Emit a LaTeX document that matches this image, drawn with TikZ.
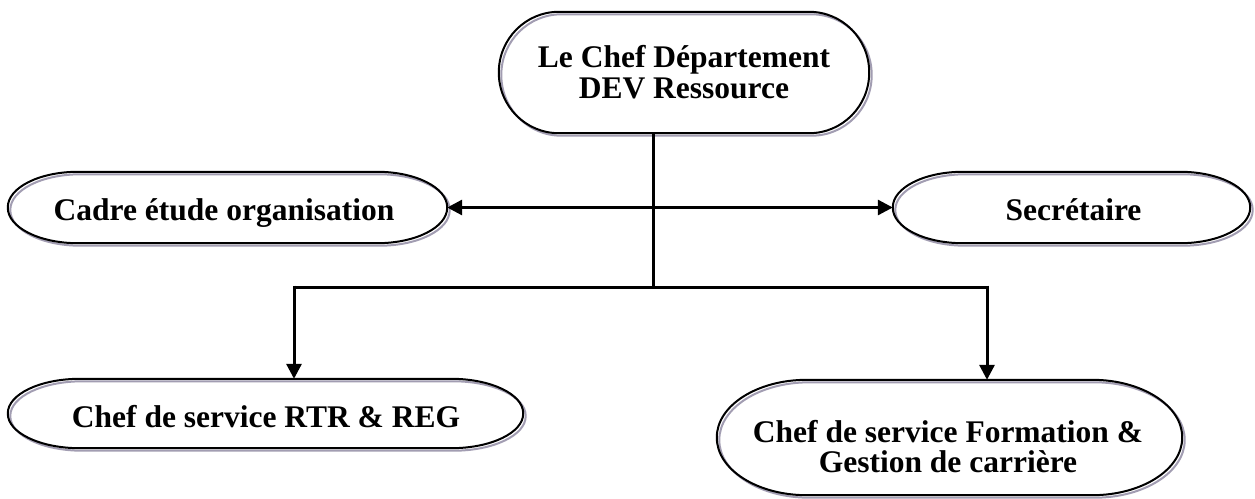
\documentclass[tikz,border=0pt]{standalone}
\usepackage{fontspec}
\setmainfont{Liberation Serif}
\usetikzlibrary{arrows.meta}
\definecolor{shadowgray}{RGB}{162,157,178}
\newcommand{\pillshape}[3]{%
  ([xshift=#2]#1.north west) -- ([xshift=-#2]#1.north east)
  arc[start angle=90,end angle=0,x radius=#2,y radius=#3]
  -- ([yshift=#3]#1.south east)
  arc[start angle=0,end angle=-90,x radius=#2,y radius=#3]
  -- ([xshift=#2]#1.south west)
  arc[start angle=270,end angle=180,x radius=#2,y radius=#3]
  -- ([yshift=-#3]#1.north west)
  arc[start angle=180,end angle=90,x radius=#2,y radius=#3] -- cycle}
\tikzset{
  pill/.style={inner sep=0pt, draw=none},
  lbl/.style={inner sep=0pt, align=center, anchor=base, font=\fontsize{31.5}{31}\selectfont\bfseries},
  boxline/.style={draw=black, line width=2pt},
  shadowline/.style={draw=shadowgray, line width=2pt, transform canvas={shift={(2.5pt,-2.5pt)}}},
  conn/.style={line width=3pt, draw=black},
  tip/.style={-{Triangle[length=15pt,width=15pt]}},
}
\begin{document}
\begin{tikzpicture}[x=1pt,y=-1pt]
\fill[white] (0,0) rectangle (1255,498);
\useasboundingbox (0,0) rectangle (1255,498);

\node[pill, minimum width=370pt, minimum height=121pt] (top) at (684,72.5) {};
\node[pill, minimum width=439pt, minimum height=71pt] (cadre) at (227.5,207.5) {};
\node[pill, minimum width=357pt, minimum height=71pt] (secr) at (1071.5,207.5) {};
\node[pill, minimum width=515pt, minimum height=69pt] (rtr) at (265.5,413.5) {};
\node[pill, minimum width=465pt, minimum height=115pt] (form) at (949.5,437.5) {};

\node[lbl] (topt) at (684,98) {Le Chef Département\\DEV Ressource};
\node[lbl] (cadret) at (224,220) {Cadre étude organisation};
\node[lbl] (secrt) at (1073.5,220) {Secrétaire};
\node[lbl] (rtrt) at (266,427) {Chef de service RTR \& REG};
\node[lbl, font=\fontsize{31.5}{29.5}\selectfont\bfseries] (formt) at (948,472) {Chef de service Formation \&\\Gestion de carrière};

\foreach \n/\rx/\ry in {top/60pt/60.5pt, cadre/70pt/35.5pt, secr/70pt/35.5pt, rtr/72pt/34.5pt, form/90pt/57.5pt}{
  \draw[shadowline] \pillshape{\n}{\rx}{\ry};
  \draw[boxline] \pillshape{\n}{\rx}{\ry};
}

\coordinate (j) at (653,287);
\coordinate (l) at (294,287);
\coordinate (r) at (987,287);

\draw[conn] (top.south -| j) -- (j);
\draw[conn] (l) -- (r);
\draw[conn, {Triangle[length=15pt,width=15pt]}-{Triangle[length=15pt,width=15pt]}] (cadre.east) -- (secr.west);
\draw[conn, tip] ([yshift=1.5pt]l) -- (rtr.north -| l);
\draw[conn, tip] ([yshift=1.5pt]r) -- (form.north -| r);
\end{tikzpicture}
\end{document}
